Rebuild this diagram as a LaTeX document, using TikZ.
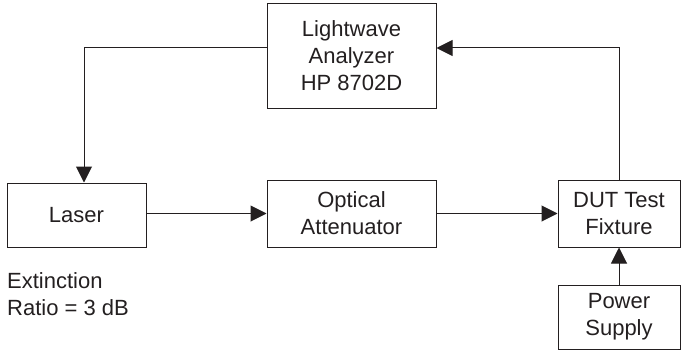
\documentclass[tikz,border=0pt]{standalone}
\usepackage{fontspec}
\setmainfont{Liberation Sans}
\usetikzlibrary{arrows.meta,positioning}
\definecolor{ink}{HTML}{231F20}

\begin{document}
\begin{tikzpicture}[
    x=1pt, y=-1pt,
    every node/.style={font=\fontsize{22}{27}\selectfont, text=ink},
    block/.style={rectangle, draw=ink, line width=1pt, align=center, inner sep=0pt},
    arr/.style={-{Triangle[length=16pt, width=16pt]}, draw=ink, line width=1pt},
]
\useasboundingbox (0,0) rectangle (682,353);

% Analyzer
\node[block, minimum width=169pt, minimum height=104pt] (analyzer) at (351.5, 56)
    {Lightwave\\Analyzer\\HP 8702D};

% Laser
\node[block, minimum width=139pt, minimum height=64pt] (laser) at (76.5, 215) {Laser};

% Attenuator
\node[block, minimum width=169pt, minimum height=67pt] (attn) at (351.5, 213.5)
    {Optical\\Attenuator};

% DUT
\node[block, minimum width=122pt, minimum height=67pt] (dut) at (619, 213.5)
    {DUT Test\\Fixture};

% Power supply
\node[block, minimum width=122pt, minimum height=64pt] (power) at (619, 317)
    {Power\\Supply};

% Extinction ratio note
\node[anchor=west, align=left, inner sep=0pt] (note) at (7, 294)
    {Extinction\\Ratio = 3 dB};

% Arrows
\draw[arr] ([yshift=8pt]analyzer.west) -| ([xshift=7.5pt]laser.north);
\draw[arr] (laser.east |- attn) -- (attn.west);
\draw[arr] (attn.east) -- (dut.west);
\draw[arr] (dut.north) |- ([yshift=8pt]analyzer.east);
\draw[arr] (power.north) -- (dut.south);

\end{tikzpicture}
\end{document}
